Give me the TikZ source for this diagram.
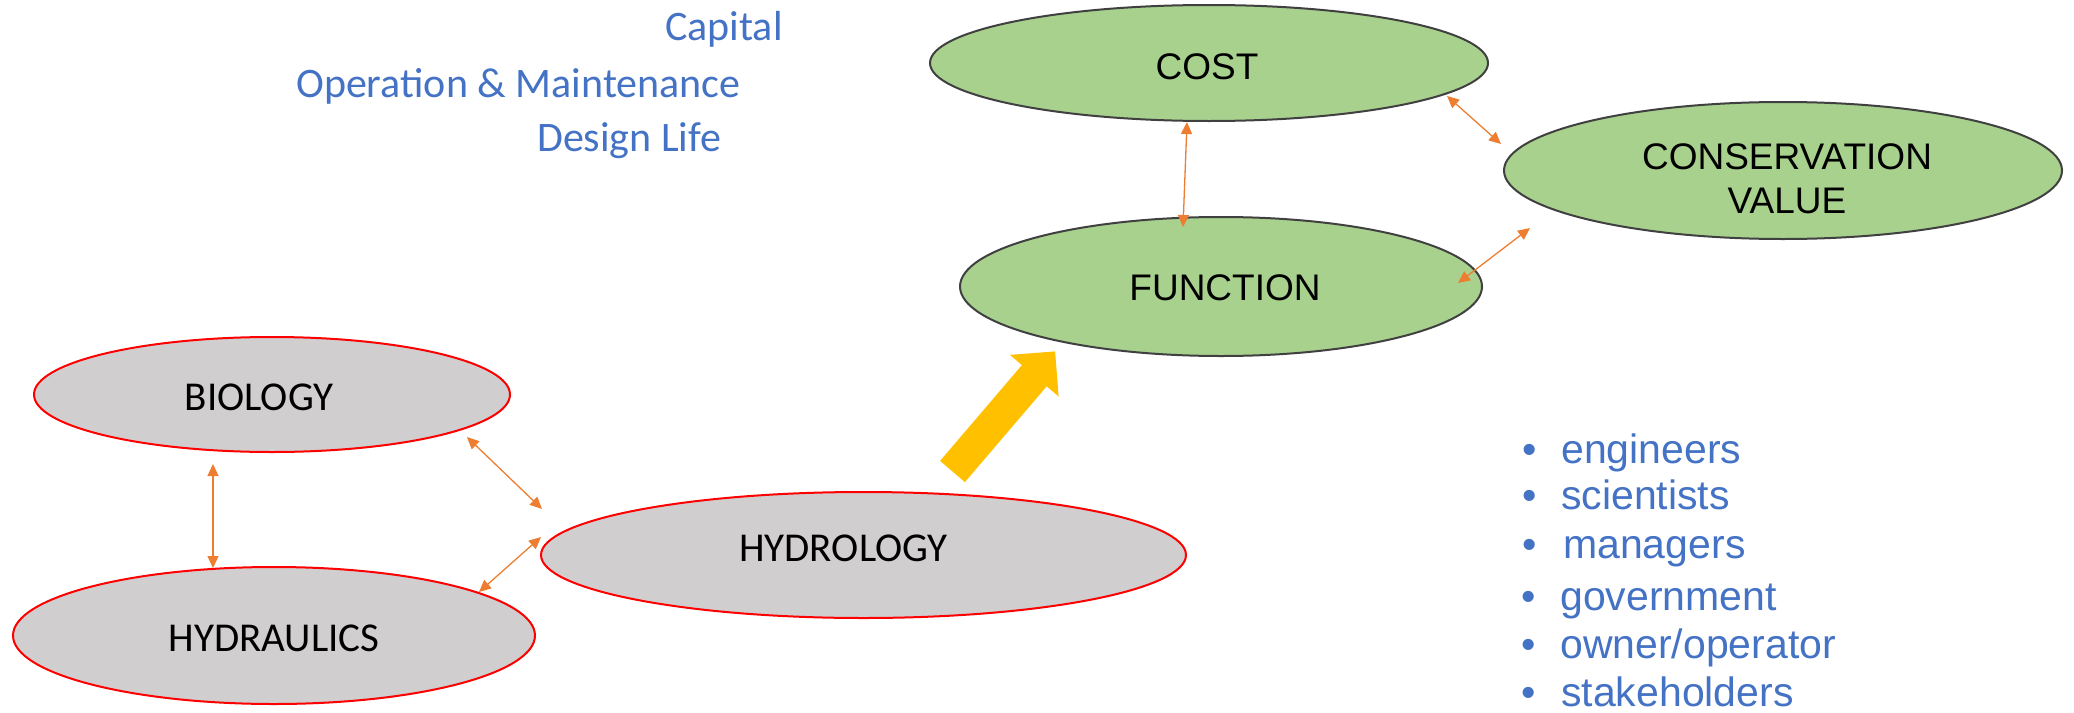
\documentclass[tikz,border=0pt]{standalone}
\usepackage{fontspec}
\usetikzlibrary{shapes.geometric,arrows.meta}
\newfontfamily\carlitofont{Carlito}
\newfontfamily\arialfont{Liberation Sans}
\definecolor{officeblue}{HTML}{4472C4}
\definecolor{linkorange}{HTML}{ED7D31}
\definecolor{flowyellow}{HTML}{FFC000}
\definecolor{leafgreen}{HTML}{A9D18E}
\definecolor{stonegray}{HTML}{D0CECE}
\definecolor{rimgray}{HTML}{404040}

\begin{document}
\begin{tikzpicture}[x=1pt,y=-1pt,
  science/.style={ellipse, draw=red, line width=2pt, fill=stonegray, inner sep=0pt},
  outcome/.style={ellipse, draw=rimgray, line width=2pt, fill=leafgreen, inner sep=0pt},
  sciencetext/.style={font=\carlitofont\fontsize{41pt}{49pt}\selectfont, text=black, inner sep=0pt},
  outcometext/.style={font=\arialfont\fontsize{37pt}{44pt}\selectfont, text=black, align=center, inner sep=0pt},
  link/.style={draw=linkorange, line width=1.3pt,
    {Triangle[length=12pt,width=11pt]}-{Triangle[length=12pt,width=11pt]}},
  costitem/.style={font=\carlitofont\fontsize{42pt}{50pt}\selectfont, text=officeblue, anchor=base west, inner sep=0pt},
  party/.style={font=\arialfont\fontsize{41pt}{49pt}\selectfont, text=officeblue, anchor=base west, inner sep=0pt},
  partydot/.style={font=\arialfont\fontsize{41pt}{49pt}\selectfont, text=officeblue, anchor=base, inner sep=0pt},
]
\useasboundingbox (0,0) rectangle (2074,712);

% cost components
\node[costitem] (capital) at (665,40) {Capital};
\node[costitem] (operation) at (296,97) {Operation \& Maintenance};
\node[costitem] (designlife) at (537,151) {Design Life};

% science ellipses
\node[science, minimum width=476pt, minimum height=115pt,
  label={[sciencetext, xshift=-13pt, yshift=-2.5pt]center:BIOLOGY}] (bio) at (272,394.5) {};
\node[science, minimum width=522pt, minimum height=137pt,
  label={[sciencetext, yshift=-2.5pt]center:HYDRAULICS}] (hydraulics) at (274,635.5) {};
\node[science, minimum width=645pt, minimum height=126pt,
  label={[sciencetext, xshift=-20pt, yshift=6.5pt]center:HYDROLOGY}] (hydrology) at (863.5,555) {};

% outcome ellipses
\node[outcome, minimum width=558pt, minimum height=116pt,
  label={[outcometext, xshift=-2pt, yshift=-4pt]center:COST}] (cost) at (1209,63) {};
\node[outcome, minimum width=522pt, minimum height=139pt,
  label={[outcometext, xshift=4pt, yshift=-1.5pt]center:FUNCTION}] (function) at (1221,286.5) {};
\node[outcome, minimum width=558pt, minimum height=137pt,
  label={[outcometext, xshift=4pt, yshift=-8pt]center:CONSERVATION\\VALUE}] (conservation) at (1783,170.5) {};

% two-way links
\draw[link] ([shift={(-59,69.5)}]bio.center) -- ([shift={(-61,-67.5)}]hydraulics.center);
\draw[link] ([shift={(195,42.5)}]bio.center) -- ([shift={(-321.5,-46)}]hydrology.center);
\draw[link] ([shift={(205,-43.5)}]hydraulics.center) -- ([shift={(-322.5,-18)}]hydrology.center);
\draw[link] ([shift={(-22,59)}]cost.center) -- ([shift={(-38,-59.5)}]function.center);
\draw[link] ([shift={(238,33)}]cost.center) -- ([shift={(-282,-26.5)}]conservation.center);
\draw[link] ([shift={(237,-3.5)}]function.center) -- ([shift={(-253,57.5)}]conservation.center);

% block arrow from hydrology towards function
\fill[flowyellow] (940.1,460.9) -- (1021.9,365.1) -- (1010,354.9) -- (1055.1,351.4)
  -- (1058.6,396.5) -- (1046.7,386.3) -- (964.9,482.1) -- cycle;

% people involved
\node[partydot] (dot1) at (1530,463) {•};
\node[party] (engineers) at (1561,463) {engineers};
\node[partydot] (dot2) at (1530,509) {•};
\node[party] (scientists) at (1561,509) {scientists};
\node[partydot] (dot3) at (1530,558) {•};
\node[party] (managers) at (1563,558) {managers};
\node[partydot] (dot4) at (1529,610) {•};
\node[party] (government) at (1560,610) {government};
\node[partydot] (dot5) at (1529,658) {•};
\node[party] (owner) at (1560,658) {owner/operator};
\node[partydot] (dot6) at (1529,706) {•};
\node[party] (stakeholders) at (1561,706) {stakeholders};
\end{tikzpicture}
\end{document}
